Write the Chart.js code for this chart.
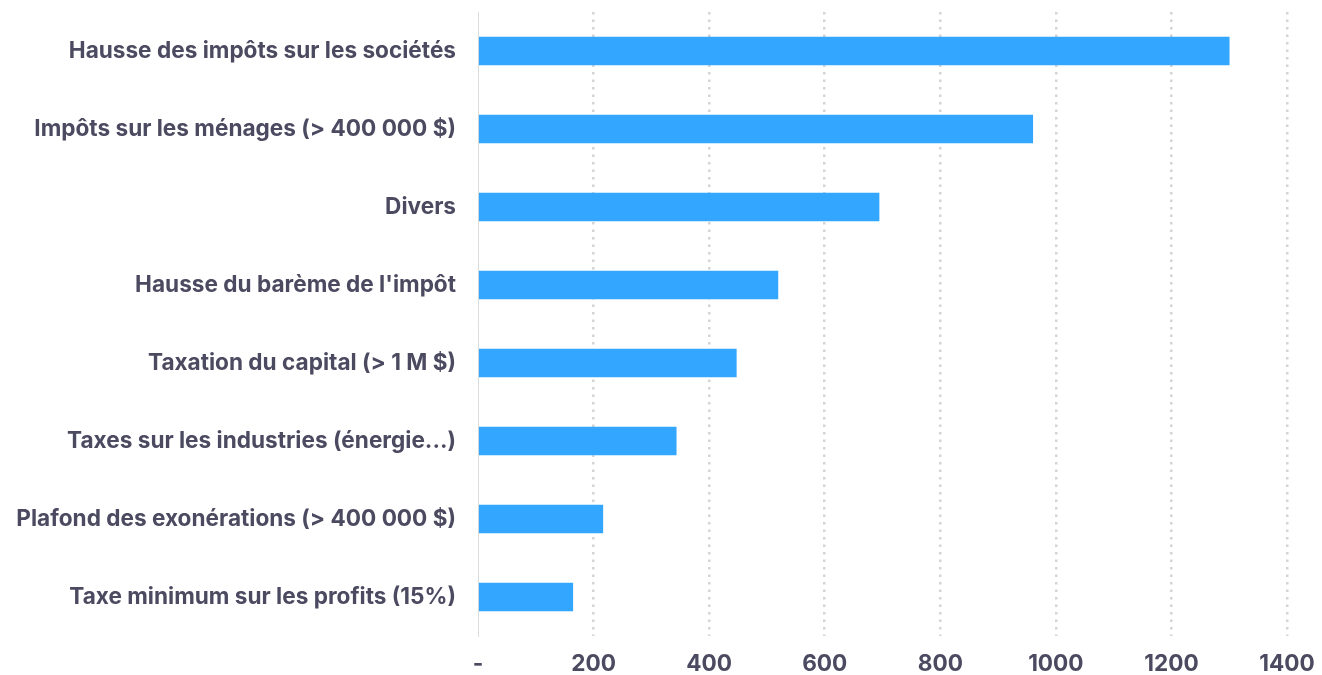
<!DOCTYPE html>
<html><head><meta charset="utf-8">
<script src="https://cdn.jsdelivr.net/npm/chart.js@4.4.0/dist/chart.umd.min.js"></script>
<style>html,body{margin:0;padding:0;background:#fff}#wrap{width:1322px;height:675px}</style>
</head><body><div id="wrap"><canvas id="c"></canvas></div>
<script>
const categories = [
  "Hausse des impôts sur les sociétés",
  "Impôts sur les ménages (> 400 000 $)",
  "Divers",
  "Hausse du barème de l'impôt",
  "Taxation du capital (> 1 M $)",
  "Taxes sur les industries (énergie...)",
  "Plafond des exonérations (> 400 000 $)",
  "Taxe minimum sur les profits (15%)"
];
const values = [1300, 960, 694, 519, 447, 343, 216, 164];
const tickValues = [0, 200, 400, 600, 800, 1000, 1200, 1400];
const tickLabels = ["-", "200", "400", "600", "800", "1000", "1200", "1400"];

const textColor = '#4b4a60';

new Chart(document.getElementById('c'), {
  type: 'bar',
  data: {
    labels: categories,
    datasets: [{
      data: values,
      backgroundColor: '#33a7ff',
      borderWidth: 0,
      barThickness: 28
    }]
  },
  options: {
    indexAxis: 'y',
    responsive: true,
    maintainAspectRatio: false,
    animation: false,
    layout: { padding: { top: 12, right: 35, bottom: 0, left: 0 } },
    plugins: { legend: { display: false }, tooltip: { enabled: false } },
    scales: {
      x: {
        min: 0, max: 1400,
        afterBuildTicks(scale){ scale.ticks = tickValues.map(v => ({ value: v })); },
        afterFit(scale){ scale.height = 39; scale.paddingLeft = 0; scale.paddingRight = 0; },
        ticks: {
          padding: 15,
          color: textColor,
          font: { family: 'Inter', size: 22.6, weight: 'bold' },
          callback: (v) => tickLabels[tickValues.indexOf(v)]
        },
        grid: {
          drawTicks: false,
          lineWidth: 2.5,
          color: (ctx) => (ctx.tick && ctx.tick.value === 0) ? 'rgba(0,0,0,0)' : '#d4d4d4'
        },
        border: { display: false, dash: [2.5, 5] }
      },
      y: {
        afterFit(scale){ scale.width = 478; scale.paddingTop = 0; scale.paddingBottom = 0; },
        ticks: {
          padding: 22,
          color: textColor,
          font: { family: 'Inter', size: 22.6, weight: 'bold' }
        },
        grid: { display: false, drawTicks: false },
        border: { display: true, color: '#dcdcdc', width: 1 }
      }
    }
  }
});
</script></body></html>
